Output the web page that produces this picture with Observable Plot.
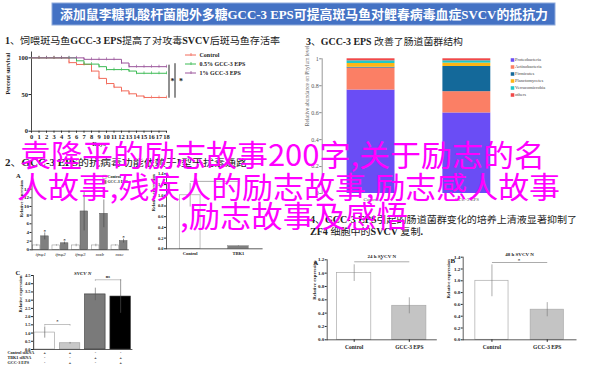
<!DOCTYPE html>
<html><head><meta charset="utf-8">
<script src="https://cdn.jsdelivr.net/npm/d3@7"></script>
<script src="https://cdn.jsdelivr.net/npm/@observablehq/plot@0.6"></script>
<style>
html,body{margin:0;padding:0;background:#fff;}
#root{position:relative;width:600px;height:366px;overflow:hidden;background:#fff;}
</style></head><body><div id="root"></div>
<script>
// ---------- DATA ----------
const bannerTitle = "添加鼠李糖乳酸杆菌胞外多糖GCC-3 EPS可提高斑马鱼对鲤春病毒血症SVCV的抵抗力";
const heading1 = "1、饲喂斑马鱼GCC-3 EPS提高了对攻毒SVCV后斑马鱼存活率";
const heading2 = "2、GCC-3 EPS的抗病毒功能依赖于I型干扰素通路";
const heading3 = "3、GCC-3 EPS 改善了肠道菌群结构";
const heading4a = "4、GCC-3 EPS引起的肠道菌群变化的培养上清液显著抑制了";
const heading4b = "ZF4 细胞中的SVCV 复制.";
const overlayLines = ["袁隆平的励志故事200字,关于励志的名", "人故事,残疾人的励志故事,励志感人故事", ",励志故事及感悟"];

// Panel 1: survival
const days = [0,1,2,3,4,5,6,7,8,9,10,11,12,13,14,15,16,17,18];
const survControl = [100,100,100,100,100,93.5,91,91,82,72,65,60,55,51,48,46,46,46,46];
const surv05      = [100,100,100,100,100,100,96,91.5,91.5,88,84,84,84,82,79,79,79,79,79];
const surv1       = [100,100,100,100,100,100,100,98,98,98,98,98,93,88,88,88,88,88,88];
const survSeries = ["Control","0.5% GCC-3 EPS","1% GCC-3 EPS"];
const survColors = ["#f26b5b","#3dbb55","#9b559b"];
const survTicksY = [0,50,100];
const survSig = [{label:"*", low:45, high:90},{label:"*", low:45, high:92}];

// Panel 3: phylum abundance
const groups3 = ["Control","GCC-3 EPS"];
const phyla = ["Proteobacteria","Actinobacteria","Firmicutes","Planctomycetes","Verrucomicrobia","others"];
const phylaColors = ["#6a4df5","#fb7f65","#14699a","#fdb515","#1ec8c8","#f04848"];
const abundControl = [0.768,0.163,0.006,0.028,0.020,0.015];
const abundEps     = [0.598,0.158,0.187,0.025,0.017,0.015];
const abundTicks = [0,0.2,0.4,0.6,0.8,1];

// Panel 2A: gene expression
const genes = ["ifnφ1","ifnφ2","ifnφ3","mxb","mxc"];
const geneCtrl    = [1,1,1,1,1];
const geneCtrlErr = [0.25,0.15,0.3,0.3,0.15];
const geneEps     = [3.1,1.5,8.85,8.3,2.0];
const geneEpsErr  = [0.8,0.3,4.5,3.2,0.45];
const geneSig     = ["*","*","","","*"];
const geneTicks = [0,2,4,6,8,10,12,14];
const legend2A = ["Control","GCC-3 EPS"];

// Panel 2B: TBK1
const groupsB = ["Control","TBK1"];
const valB = [1.0,0.05];
const errB = [0.22,0.01];
const ticksB = [0,0.2,0.4,0.6,0.8,1.0,1.2,1.4];

// Panel C: SVCV N
const catsC = ["Control siRNA","Control siRNA + GCC-3 EPS","TBK1 siRNA","TBK1 siRNA + GCC-3 EPS"];
const valC = [1.03,0.38,3.35,3.22];
const errC = [0.34,0.05,0.38,1.02];
const fillsC = ["#ffffff","#c8c8c8","#7a7a7a","#000000"];
const ticksC = [0,0.5,1,1.5,2,2.5,3,3.5,4,4.5];
const rowLabelsC = ["Control siRNA","TBK1 siRNA","GCC-3 EPS"];
const rowSignsC = [["+","+","-","-"],["-","-","+","+"],["-","+","-","+"]];
const bracketsC = [{a:0,b:1,y:1.52,label:"*"},{a:2,b:3,y:4.24,label:"ns"}];

// Panels A / B (24 h / 48 h)
const groupsAB = ["Control","GCC-3 EPS"];
const val24 = [1.0,0.51], err24 = [0.125,0.12];
const val48 = [1.0,0.51], err48 = [0.27,0.12];
const ticks24 = [0,0.2,0.4,0.6,0.8,1.0,1.2];
const ticks48 = [0,0.2,0.4,0.6,0.8,1.0,1.2,1.4];
const sig24 = 1.17, sig48 = 1.31;

// ---------- HELPERS ----------
const FONT = "'Liberation Serif','Noto Sans CJK SC',serif";
const root = document.getElementById("root");
function place(el, left, top){ el.style.position="absolute"; el.style.left=left+"px"; el.style.top=top+"px"; root.appendChild(el); }
function baseStyle(size, weight="bold", color="#222"){ return {fontFamily:FONT, fontSize:size, fontWeight:weight, color, background:"transparent", overflow:"visible"}; }
function bw(r0,r1,n,pi,po){ const step=(r1-r0)/(n-pi+2*po); return step*(1-pi); }

// ---------- PANEL 1 ----------
const survRows = [];
[survControl, surv05, surv1].forEach((arr,k)=>arr.forEach((v,i)=>survRows.push({day:days[i], v, s:survSeries[k]})));
const lastDay = days[days.length-1];
place(Plot.plot({
  width:300, height:110, marginLeft:31, marginRight:6.5, marginTop:6.5, marginBottom:24.3,
  x:{domain:[0,35]}, y:{domain:[0,108]},
  color:{domain:survSeries, range:survColors},
  style: baseStyle("6.5px"),
  marks:[
    Plot.axisX({ticks:days, tickSize:2, tickPadding:1, label:null}),
    Plot.axisY({ticks:survTicksY, tickSize:2.5, tickPadding:1, label:null}),
    Plot.ruleY([0], {x1:days[0], x2:lastDay, stroke:"#333", strokeWidth:0.9}),
    Plot.ruleX([0], {y1:0, y2:108, stroke:"#333", strokeWidth:0.9}),
    Plot.line(survRows, {x:"day", y:"v", stroke:"s", curve:"step-after", strokeWidth:1}),
    Plot.ruleX(survRows.filter(d=>d.day>0), {x:"day", y1:d=>d.v-2, y2:d=>d.v+2, stroke:"s", strokeWidth:0.7}),
    Plot.ruleX([survSig[0]], {x:()=>lastDay, y1:"low", y2:"high", dx:2.5, stroke:"#222", strokeWidth:1}),
    Plot.ruleX([survSig[1]], {x:()=>lastDay, y1:"low", y2:"high", dx:8.5, stroke:"#222", strokeWidth:1}),
    Plot.text([survSig[0]], {x:()=>lastDay, y:d=>(d.low+d.high)/2, text:"label", dx:6, fontSize:"8px"}),
    Plot.text([survSig[1]], {x:()=>lastDay, y:d=>(d.low+d.high)/2, text:"label", dx:14.5, fontSize:"8px"}),
    Plot.text(["Days"], {x:(days[0]+lastDay)/2, frameAnchor:"bottom", dy:15}),
    Plot.text(["Percent survival"], {y:50, frameAnchor:"left", rotate:-90, dx:-23, fontSize:"6px"})
  ]
}), 0, 45);

place(Plot.plot({
  width:95, height:28, marginLeft:2, marginRight:82, marginTop:0, marginBottom:0,
  x:{domain:[0,1], axis:null},
  y:{type:"band", domain:survSeries, range:[0.5,27.5], padding:0, axis:null},
  color:{domain:survSeries, range:survColors},
  style: baseStyle("6px"),
  marks:[
    Plot.ruleY(survSeries, {y:d=>d, x1:0, x2:1, stroke:d=>d, strokeWidth:1}),
    Plot.tickX(survSeries, {x:0.5, y:d=>d, stroke:d=>d, insetTop:3, insetBottom:3, strokeWidth:0.8}),
    Plot.text(survSeries, {y:d=>d, x:1, dx:3, textAnchor:"start", fill:"#222"})
  ]
}), 183, 49);

// ---------- PANEL 3 ----------
const abundRows = [];
phyla.forEach((p,i)=>{ abundRows.push({g:groups3[0], p, v:abundControl[i]}); abundRows.push({g:groups3[1], p, v:abundEps[i]}); });
place(Plot.plot({
  width:250, height:160, marginLeft:21.7, marginRight:34.8, marginTop:13.3, marginBottom:12,
  x:{domain:groups3, paddingInner:0.5, paddingOuter:0.26, round:false},
  y:{domain:[0,1]},
  color:{domain:phyla, range:phylaColors},
  style: baseStyle("6px","normal","#555"),
  marks:[
    Plot.barY(abundRows, {x:"g", y:"v", fill:"p"}),
    Plot.axisY({ticks:abundTicks, tickFormat:d=>String(d), tickSize:2.5, tickPadding:1, label:null, stroke:"#888"}),
    Plot.axisX({tickSize:0, tickPadding:4, label:null, fontSize:"5px"}),
    Plot.frame({anchor:"left", stroke:"#999"}),
    Plot.text(["Relative abundance on Phylum level"], {frameAnchor:"left", rotate:-90, dx:-14.7, fontSize:"5.5px", fill:"#666"})
  ]
}), 300, 45);

place(Plot.plot({
  width:50, height:43, marginLeft:0, marginRight:0, marginTop:0, marginBottom:0,
  x:{axis:null},
  y:{type:"band", domain:phyla, range:[0.8,42.8], padding:0, axis:null},
  color:{domain:phyla, range:phylaColors},
  style: baseStyle("4.5px","normal","#444"),
  marks:[
    Plot.dot(phyla, {y:d=>d, frameAnchor:"left", dx:4, symbol:"square", r:2, fill:d=>d}),
    Plot.text(phyla, {y:d=>d, text:d=>d, frameAnchor:"left", dx:6.5, textAnchor:"start", fill:"#444"})
  ]
}), 508, 55);

// ---------- PANEL 2A ----------
const bw2A = bw(31.5,127.8,5,0.19,0.04);
const ctrlRows = genes.map((g,i)=>({g, v:geneCtrl[i], e:geneCtrlErr[i]}));
const epsRows = genes.map((g,i)=>({g, v:geneEps[i], e:geneEpsErr[i], s:geneSig[i]}));
place(Plot.plot({
  width:150, height:90, marginLeft:31.5, marginRight:22.2, marginTop:14.3, marginBottom:10.7,
  x:{domain:genes, paddingInner:0.19, paddingOuter:0.04, round:false},
  y:{domain:[0,15]},
  style: baseStyle("5px"),
  marks:[
    Plot.barY(ctrlRows, {x:"g", y:"v", fill:"#fff", stroke:"#999", strokeWidth:0.6, insetRight:bw2A/2+0.4}),
    Plot.barY(epsRows, {x:"g", y:"v", fill:"#7f7f7f", stroke:"#555", strokeWidth:0.5, insetLeft:bw2A/2+0.4}),
    Plot.ruleX(ctrlRows, {x:"g", y1:d=>d.v-d.e, y2:d=>d.v+d.e, dx:-bw2A/4, stroke:"#777", strokeWidth:0.6}),
    Plot.ruleX(epsRows, {x:"g", y1:d=>d.v-d.e, y2:d=>d.v+d.e, dx:bw2A/4, stroke:"#444", strokeWidth:0.6}),
    Plot.text(epsRows.filter(d=>d.s), {x:"g", y:d=>d.v+d.e, text:"s", dx:bw2A/4, dy:-2, fontSize:"5px"}),
    Plot.axisY({ticks:geneTicks, tickSize:2, tickPadding:1, label:null}),
    Plot.axisX({tickSize:0, tickPadding:2.5, label:null, fontStyle:"italic", fontWeight:"normal"}),
    Plot.frame({anchor:"left", stroke:"#333", strokeWidth:0.8}),
    Plot.frame({anchor:"bottom", stroke:"#333", strokeWidth:0.8}),
    Plot.text(["Relative expression"], {frameAnchor:"left", rotate:-90, dx:-10.8, fontSize:"4.5px"}),
    Plot.text(["A"], {frameAnchor:"top-left", dx:-16, dy:-11, fontSize:"6.5px"})
  ]
}), 0, 170);

place(Plot.plot({
  width:40, height:10, margin:0,
  x:{axis:null},
  y:{type:"band", domain:legend2A, range:[0,10], padding:0, axis:null},
  style: baseStyle("4px"),
  marks:[
    Plot.dot(legend2A, {y:d=>d, frameAnchor:"left", dx:3, symbol:"square", r:1.9, fill:["#fff","#7f7f7f"], stroke:"#666", strokeWidth:0.4}),
    Plot.text(legend2A, {y:d=>d, text:d=>d, frameAnchor:"left", dx:6, textAnchor:"start"})
  ]
}), 101, 174);

// ---------- PANEL 2B ----------
const rowsB = groupsB.map((g,i)=>({g, v:valB[i], e:errB[i]}));
place(Plot.plot({
  width:120, height:90, marginLeft:16, marginRight:8.4, marginTop:3.4, marginBottom:11.7,
  x:{domain:groupsB, paddingInner:0.57, paddingOuter:0.275, round:false},
  y:{domain:[0,1.4]},
  style: baseStyle("4.5px"),
  marks:[
    Plot.barY(rowsB, {x:"g", y:"v", fill:(d,i)=>["#fff","#7f7f7f"][i], stroke:"#999", strokeWidth:0.6}),
    Plot.ruleX(rowsB, {x:"g", y1:d=>d.v-d.e, y2:d=>d.v+d.e, stroke:"#777", strokeWidth:0.6}),
    Plot.link([{a:groupsB[0], b:groupsB[1], y:1.26}], {x1:"a", x2:"b", y1:"y", y2:"y", stroke:"#888", strokeWidth:0.7}),
    Plot.axisY({ticks:ticksB, tickFormat:d=>d.toFixed(1), tickSize:2, tickPadding:1, label:null}),
    Plot.axisX({tickSize:0, tickPadding:3, label:null}),
    Plot.frame({anchor:"left", stroke:"#333", strokeWidth:0.8}),
    Plot.frame({anchor:"bottom", stroke:"#333", strokeWidth:0.8}),
    Plot.text(["Relative expression"], {frameAnchor:"left", rotate:-90, dx:-13, fontSize:"4.5px"})
  ]
}), 150, 170);

// ---------- PANEL C ----------
const rowsC = catsC.map((c,i)=>({c, v:valC[i], e:errC[i], f:fillsC[i]}));
const brC = bracketsC.map(b=>({a:catsC[b.a], b:catsC[b.b], y:b.y, label:b.label}));
place(Plot.plot({
  width:150, height:101, marginLeft:33, marginRight:18.6, marginTop:10, marginBottom:17,
  x:{domain:catsC, paddingInner:0.19, paddingOuter:0.04, round:false, axis:null},
  y:{domain:[0,4.5]},
  style: baseStyle("4.5px"),
  marks:[
    Plot.barY(rowsC, {x:"c", y:"v", fill:"f", stroke:(d,i)=>i<2?"#999":"#333", strokeWidth:0.6}),
    Plot.ruleX(rowsC, {x:"c", y1:d=>d.v-d.e, y2:d=>d.v+d.e, stroke:"#555", strokeWidth:0.6}),
    Plot.link(brC, {x1:"a", x2:"b", y1:"y", y2:"y", stroke:"#999", strokeWidth:0.6}),
    Plot.ruleX(brC, {x:"a", y1:d=>d.y-0.1, y2:"y", stroke:"#999", strokeWidth:0.6}),
    Plot.ruleX(brC, {x:"b", y1:d=>d.y-0.1, y2:"y", stroke:"#999", strokeWidth:0.6}),
    Plot.text(brC, {x:d=>d.a, y:"y", text:"label", dx:12.6, dy:-3, fontSize:"4.5px"}),
    Plot.axisY({ticks:ticksC, tickFormat:d=>d.toFixed(1), tickSize:2, tickPadding:1, label:null}),
    Plot.frame({anchor:"left", stroke:"#333", strokeWidth:0.8}),
    Plot.frame({anchor:"bottom", stroke:"#333", strokeWidth:0.8}),
    Plot.text(["Relative expression"], {frameAnchor:"left", rotate:-90, dx:-13, fontSize:"4.5px"}),
    Plot.text(["SVCV N"], {frameAnchor:"top", dy:-4, fontStyle:"italic", fontSize:"5px"}),
    Plot.text(["C"], {frameAnchor:"top-left", dx:-18, dy:-5, fontSize:"6.5px"}),
    ...rowLabelsC.map((r,i)=>Plot.text([r], {frameAnchor:"bottom-left", dx:-26, dy:4+i*5, textAnchor:"start", fontSize:"4.2px"})),
    ...rowSignsC.map((row,i)=>Plot.text(catsC.map((c,j)=>({c, s:row[j]})), {x:"c", text:"s", frameAnchor:"bottom", dy:4+i*5, fontSize:"4.2px"}))
  ]
}), 0, 265);

// ---------- PANELS A & B (bottom right) ----------
function timePanel(vals, errs, ticks, ymax, sigY, title, letter, m, pi, po, labelDx, letterDx, letterDy){
  const rows = groupsAB.map((g,i)=>({g, v:vals[i], e:errs[i]}));
  return Plot.plot({
    width:150, height:116, marginLeft:m[0], marginRight:m[1], marginTop:m[2], marginBottom:m[3],
    x:{domain:groupsAB, paddingInner:pi, paddingOuter:po, round:false},
    y:{domain:[0,ymax]},
    style: baseStyle("5px"),
    marks:[
      Plot.barY(rows, {x:"g", y:"v", fill:(d,i)=>["#fff","#c4c4c4"][i], stroke:"#aaa", strokeWidth:0.7}),
      Plot.ruleX(rows, {x:"g", y1:d=>d.v-d.e, y2:d=>d.v+d.e, stroke:"#777", strokeWidth:0.6}),
      Plot.link([{a:groupsAB[0], b:groupsAB[1], y:sigY}], {x1:"a", x2:"b", y1:"y", y2:"y", stroke:"#888", strokeWidth:0.7}),
      Plot.text([{a:groupsAB[0], y:sigY}], {x:"a", y:"y", text:()=>"*", dx:27, dy:-2.5, fontSize:"5px"}),
      Plot.axisY({ticks, tickFormat:d=>d.toFixed(1), tickSize:2, tickPadding:1, label:null}),
      Plot.axisX({tickSize:2.5, tickPadding:3, label:null, fontSize:"5.5px"}),
      Plot.frame({anchor:"left", stroke:"#333", strokeWidth:0.8}),
      Plot.frame({anchor:"bottom", stroke:"#333", strokeWidth:0.8}),
      Plot.text(["Relative expression"], {frameAnchor:"left", rotate:-90, dx:labelDx, fontSize:"4.8px"}),
      Plot.text([title], {frameAnchor:"top", dy:-5, fontSize:"5px"}),
      Plot.text([letter], {frameAnchor:"top-left", dx:letterDx, dy:letterDy, fontSize:"7px"})
    ]
  });
}
place(timePanel(val24, err24, ticks24, 1.2, sig24, "24 h SVCV N", "A", [26.7,14.2,9.3,26.7], 0.38, 0.18, -12.7, -14, 0), 300, 250);
place(timePanel(val48, err48, ticks48, 1.4, sig48, "48 h SVCV N", "B", [12.7,24.5,6.7,26.7], 0.40, 0.22, -14.4, -12.7, 0.5), 450, 250);

// ---------- TEXT OVERLAYS ----------
function mixedText(sel, str){
  const parts = str.match(/[A-Za-z0-9\-\.% ]+|[^A-Za-z0-9\-\.% ]+/g);
  parts.forEach(p=>{
    const latin = /^[A-Za-z0-9\-\.% ]+$/.test(p);
    sel.append("tspan").text(p).attr("font-weight", latin ? "bold" : "normal");
  });
}
const ov = d3.create("svg").attr("width",600).attr("height",366).style("position","absolute").style("left","0px").style("top","0px");
ov.append("rect").attr("x",52).attr("y",3).attr("width",503).attr("height",22).attr("fill","#4472c4").attr("stroke","#8eaadb").attr("stroke-width",1);
ov.append("text").attr("x",60).attr("y",19).attr("textLength",488).attr("lengthAdjust","spacingAndGlyphs")
  .attr("fill","#fff").attr("font-family","'Liberation Serif','Noto Sans CJK SC',serif").attr("font-weight","bold").attr("font-size",13).text(bannerTitle);
const heads = [
  {t:heading1, x:5, y:43.5, len:275},
  {t:heading3, x:306, y:44.5, len:157},
  {t:heading2, x:5, y:166, len:242},
  {t:heading4a, x:310, y:223, len:267},
  {t:heading4b, x:310, y:234.5, len:113}
];
heads.forEach(h=>{
  const t = ov.append("text").attr("x",h.x).attr("y",h.y).attr("textLength",h.len).attr("lengthAdjust","spacingAndGlyphs")
    .attr("fill","#222").attr("font-family","'Liberation Serif','Noto Sans CJK SC',serif").attr("font-size",9.5);
  mixedText(t, h.t);
});
root.appendChild(ov.node());

const ov2 = d3.create("svg").attr("width",600).attr("height",366).style("position","absolute").style("left","0px").style("top","0px");
const magenta = [
  {x:20, y:166, len:525},
  {x:17, y:198, len:543},
  {x:180, y:227, len:228}
];
overlayLines.forEach((line,i)=>{
  ov2.append("text").attr("x",magenta[i].x).attr("y",magenta[i].y).attr("textLength",magenta[i].len).attr("lengthAdjust","spacingAndGlyphs")
    .attr("fill","#ff00ff").attr("font-family","'Noto Sans CJK SC'").attr("font-size",30).text(line);
});
root.appendChild(ov2.node());
</script>
</body></html>
